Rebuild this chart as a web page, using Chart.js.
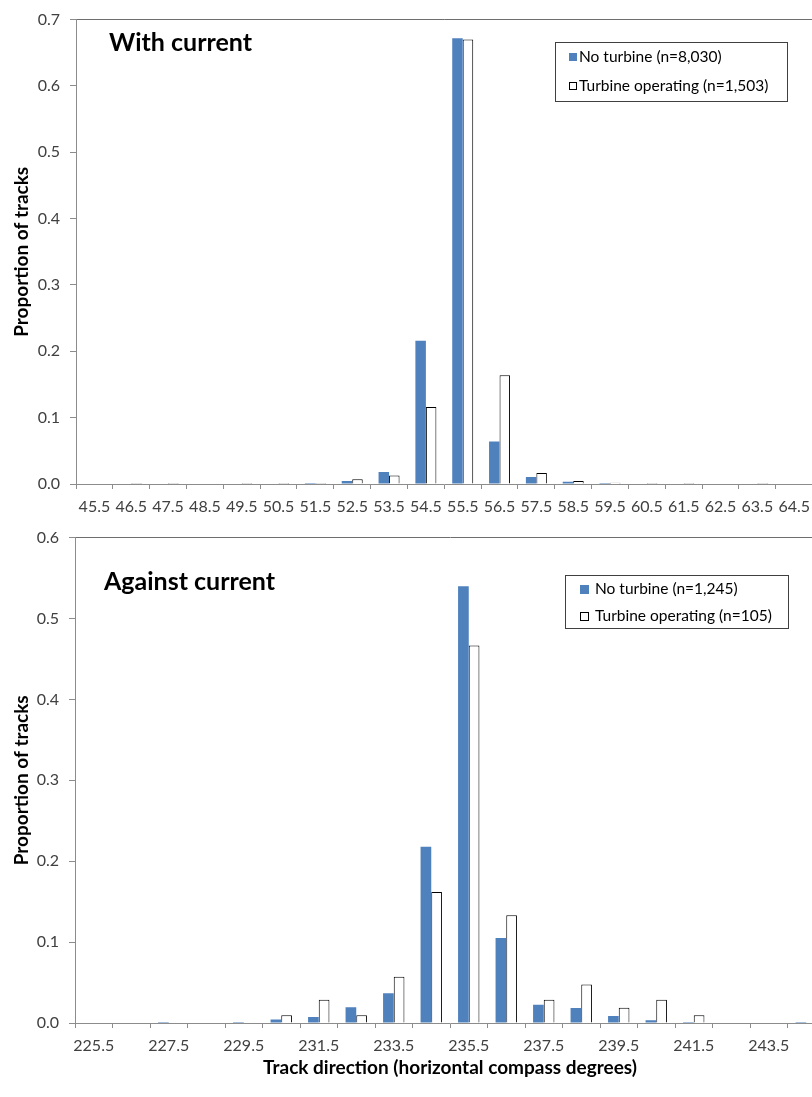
<!DOCTYPE html>
<html><head><meta charset="utf-8">
<script src="https://cdn.jsdelivr.net/npm/chart.js@4/dist/chart.umd.min.js"></script>
<style>
html,body{margin:0;padding:0;background:#fff;overflow:hidden;width:812px;height:1097px;position:relative}
#c1{position:absolute;left:0;top:0}
#c2{position:absolute;left:0;top:518px}
</style></head><body>
<canvas id="c1" width="818" height="518"></canvas>
<canvas id="c2" width="825" height="579"></canvas>
<script>
// ---- Data ----
const withCategories = ['45.5','46.5','47.5','48.5','49.5','50.5','51.5','52.5','53.5','54.5','55.5','56.5','57.5','58.5','59.5','60.5','61.5','62.5','63.5','64.5'];
const withNoTurbine = [null,null,null,null,null,null,0.0012,0.0045,0.018,0.216,0.672,0.064,0.0104,0.0034,0.0012,null,null,null,null,null];
const withTurbine   = [null,0.0007,0.0007,null,0.0007,0.0007,0.0007,0.0073,0.0127,0.116,0.670,0.164,0.0166,0.0047,0.002,0.0007,0.0007,null,0.0007,null];
const withLabels = ['No turbine (n=8,030)','Turbine operating (n=1,503)'];
const withTitle = 'With current';

const againstCategories = ['225.5','226.5','227.5','228.5','229.5','230.5','231.5','232.5','233.5','234.5','235.5','236.5','237.5','238.5','239.5','240.5','241.5','242.5','243.5','244.5'];
const againstNoTurbine = [null,null,0.0008,null,0.0008,0.0042,0.0074,0.0194,0.0367,0.218,0.540,0.105,0.0227,0.0185,0.0087,0.0033,0.0008,null,null,0.0008];
const againstTurbine   = [null,null,null,null,null,0.0095,0.0286,0.0095,0.0571,0.1619,0.4667,0.1333,0.0286,0.0476,0.0190,0.0286,0.0095,null,null,null];
const againstLabels = ['No turbine (n=1,245)','Turbine operating (n=105)'];
const againstTitle = 'Against current';

const yTitle = 'Proportion of tracks';
const xTitle = 'Track direction (horizontal compass degrees)';

// ---- Styles ----
const FONT = 'Lato, "Open Sans", sans-serif';
const BLUE = '#4f81bd';
const AXIS = '#8c8c8c';
const TICKTXT = '#404040';

const boxLegend = {
  id: 'boxLegend',
  afterDatasetsDraw(chart, args, o) {
    const ctx = chart.ctx;
    ctx.save();
    ctx.fillStyle = '#fff';
    ctx.fillRect(o.x, o.y, o.w, o.h);
    ctx.strokeStyle = '#404040';
    ctx.lineWidth = 1;
    ctx.strokeRect(o.x + 0.5, o.y + 0.5, o.w, o.h);
    ctx.font = o.fontSize + 'px ' + FONT;
    ctx.textBaseline = 'middle';
    chart.data.datasets.forEach((ds, i) => {
      const cy = o.y + o.rows[i];
      const s = o.sw;
      ctx.fillStyle = ds.backgroundColor;
      ctx.fillRect(o.x + o.swX, Math.round(cy - s / 2), s, s);
      if (ds.borderWidth) {
        ctx.strokeStyle = ds.borderColor;
        ctx.strokeRect(o.x + o.swX + 0.5, Math.round(cy - s / 2) + 0.5, s - 1, s - 1);
      }
      ctx.fillStyle = '#000';
      ctx.fillText(ds.label, o.x + o.textX, cy);
    });
    ctx.restore();
  }
};
const innerTitle = {
  id: 'innerTitle',
  afterDatasetsDraw(chart, args, o) {
    const ctx = chart.ctx;
    ctx.save();
    ctx.font = 'bold ' + o.size + 'px ' + FONT;
    ctx.fillStyle = '#000';
    ctx.textBaseline = 'middle';
    ctx.fillText(o.text, o.x, o.y);
    ctx.restore();
  }
};

function makeChart(el, cats, d1, d2, labels, title, max, opts) {
  return new Chart(el, {
    type: 'bar',
    data: {
      labels: cats,
      datasets: [
        {label: labels[0], data: d1, backgroundColor: BLUE, borderWidth: 0, categoryPercentage: 0.57, barPercentage: 1.0, minBarLength: 1},
        {label: labels[1], data: d2, backgroundColor: '#ffffff', borderColor: '#000000', borderWidth: 1, categoryPercentage: 0.57, barPercentage: 1.0, minBarLength: 1}
      ]
    },
    options: {
      responsive: false,
      animation: false,
      layout: {padding: {top: opts.padTop, left: 0, right: 0, bottom: 0}},
      plugins: {
        legend: {display: false},
        tooltip: {enabled: false},
        boxLegend: opts.legend,
        innerTitle: {text: title, x: opts.titleX, y: opts.titleY, size: 25}
      },
      scales: {
        x: {
          ticks: {color: TICKTXT, font: {family: FONT, size: 16}, padding: 8, autoSkip: false, maxRotation: 0,
            callback(v, i) { return (i % opts.every === 0) ? this.getLabelForValue(v) : ''; }},
          grid: {drawOnChartArea: false, offset: true, tickLength: 5, tickColor: AXIS},
          border: {color: AXIS, width: 1},
          title: opts.xTitle ? {display: true, text: xTitle, color: '#000', font: {family: FONT, size: 19, weight: 'bold'}, padding: {top: 0, bottom: 18}} : {display: false},
          afterFit(s) { s.height = opts.xH; }
        },
        y: {
          min: 0, max: max,
          ticks: {stepSize: 0.1, color: TICKTXT, font: {family: FONT, size: 16}, padding: 10, callback: v => v.toFixed(1)},
          grid: {drawOnChartArea: true, tickLength: 6, tickColor: AXIS,
            color: c => (c.tick && Math.abs(c.tick.value - max) < 1e-9) ? '#6e6e6e' : 'rgba(0,0,0,0)'},
          border: {color: AXIS, width: 1},
          title: {display: true, text: yTitle, color: '#000', font: {family: FONT, size: 19, weight: 'bold'}, padding: {top: 10, bottom: 0}},
          afterFit(s) { s.width = opts.yW; }
        }
      }
    },
    plugins: [boxLegend, innerTitle]
  });
}

makeChart(document.getElementById('c1'), withCategories, withNoTurbine, withTurbine, withLabels, withTitle, 0.7, {
  padTop: 14, xH: 34, yW: 76, every: 1, xTitle: false, titleX: 109, titleY: 43,
  legend: {x: 555, y: 42, w: 232, h: 59, rows: [15, 44], sw: 8, swX: 14, textX: 24, fontSize: 15.5}
});
makeChart(document.getElementById('c2'), againstCategories, againstNoTurbine, againstTurbine, againstLabels, againstTitle, 0.6, {
  padTop: 19, xH: 74, yW: 75, every: 2, xTitle: true, titleX: 104, titleY: 64,
  legend: {x: 565, y: 57, w: 223, h: 53, rows: [14, 41], sw: 9, swX: 15, textX: 30, fontSize: 15.5}
});
</script>
</body></html>
